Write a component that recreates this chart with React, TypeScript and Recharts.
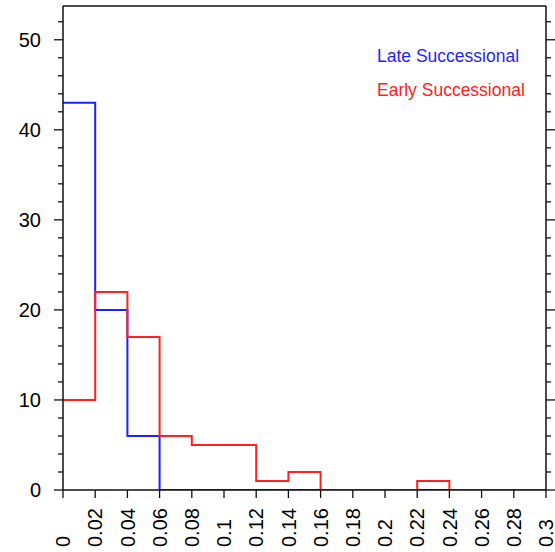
import { ComposedChart, Line, XAxis, YAxis, ReferenceLine } from 'recharts'

const binEdges = [0, 0.02, 0.04, 0.06, 0.08, 0.1, 0.12, 0.14, 0.16, 0.18, 0.2, 0.22, 0.24, 0.26, 0.28, 0.3]
const lateCounts = [43, 20, 6, 0, 0, 0, 0, 0, 0, 0, 0, 0, 0, 0, 0]
const earlyCounts = [10, 22, 17, 6, 5, 5, 1, 2, 0, 0, 0, 1, 0, 0, 0]
const xTickLabels = ['0', '0.02', '0.04', '0.06', '0.08', '0.1', '0.12', '0.14', '0.16', '0.18', '0.2', '0.22', '0.24', '0.26', '0.28', '0.3']
const yTicks = [0, 2, 4, 6, 8, 10, 12, 14, 16, 18, 20, 22, 24, 26, 28, 30, 32, 34, 36, 38, 40, 42, 44, 46, 48, 50, 52]
const yMax = 53.75

// step histogram: last edge repeats the last bin value
const data = binEdges.map((x, i) => ({
  x,
  late: lateCounts[Math.min(i, lateCounts.length - 1)],
  early: earlyCounts[Math.min(i, earlyCounts.length - 1)],
}))

const W = 555
const H = 552
const LEFT = 63
const TOP = 6
const RIGHT = 546
const BOTTOM = 490
const FONT = '"Liberation Sans", Arial, Helvetica, sans-serif'
const AXIS = '#111'

function LeftTick({ y, payload }: any) {
  const v = payload.value
  const major = v % 10 === 0
  return (
    <g>
      <line x1={LEFT} x2={LEFT - (major ? 9 : 5)} y1={y} y2={y} stroke={AXIS} strokeWidth={1.3} />
      {major && (
        <text x={41} y={y} textAnchor="end" dominantBaseline="central" fontSize={20} fontFamily={FONT} fill="#000">
          {v}
        </text>
      )}
    </g>
  )
}

function RightTick({ y, payload }: any) {
  const major = payload.value % 10 === 0
  return <line x1={RIGHT} x2={RIGHT + (major ? 9 : 5)} y1={y} y2={y} stroke={AXIS} strokeWidth={1.3} />
}

function BottomTick({ x, index }: any) {
  return (
    <g>
      <line x1={x} x2={x} y1={BOTTOM} y2={BOTTOM + 8} stroke={AXIS} strokeWidth={1.3} />
      <text
        x={x}
        y={547}
        dy="0.36em"
        transform={`rotate(-90, ${x}, 547)`}
        textAnchor="start"
        fontSize={20}
        fontFamily={FONT}
        fill="#000"
      >
        {xTickLabels[index]}
      </text>
    </g>
  )
}

export default function App() {
  return (
    <div style={{ position: 'absolute', left: 0, top: 0, width: W, height: H, background: '#fff' }}>
      <ComposedChart width={W} height={H} data={data} margin={{ top: TOP, right: 0, bottom: 0, left: 0 }}>
        <XAxis
          dataKey="x"
          type="number"
          domain={[0, 0.3]}
          ticks={binEdges}
          interval={0}
          height={H - BOTTOM}
          axisLine={{ stroke: AXIS, strokeWidth: 1.5 }}
          tickLine={false}
          tick={<BottomTick />}
        />
        <YAxis
          yAxisId="left"
          domain={[0, yMax]}
          ticks={yTicks}
          interval={0}
          width={LEFT}
          allowDataOverflow
          axisLine={{ stroke: AXIS, strokeWidth: 1.5 }}
          tickLine={false}
          tick={<LeftTick />}
        />
        <YAxis
          yAxisId="right"
          orientation="right"
          domain={[0, yMax]}
          ticks={yTicks}
          interval={0}
          width={W - RIGHT}
          allowDataOverflow
          axisLine={{ stroke: AXIS, strokeWidth: 1.5 }}
          tickLine={false}
          tick={<RightTick />}
        />
        <ReferenceLine yAxisId="left" y={yMax} stroke={AXIS} strokeWidth={1.5} />
        <Line
          yAxisId="left"
          type="stepAfter"
          dataKey="late"
          stroke="#1f1fff"
          strokeWidth={2}
          dot={false}
          isAnimationActive={false}
        />
        <Line
          yAxisId="left"
          type="stepAfter"
          dataKey="early"
          stroke="#ff2020"
          strokeWidth={2}
          dot={false}
          isAnimationActive={false}
        />
      </ComposedChart>
      <div style={{ position: 'absolute', left: 377, top: 46, fontFamily: FONT, fontSize: 17.5, color: '#1f1fff', whiteSpace: 'nowrap', lineHeight: '20px' }}>
        Late Successional
      </div>
      <div style={{ position: 'absolute', left: 377, top: 80, fontFamily: FONT, fontSize: 17.5, color: '#ff2020', whiteSpace: 'nowrap', lineHeight: '20px' }}>
        Early Successional
      </div>
    </div>
  )
}
